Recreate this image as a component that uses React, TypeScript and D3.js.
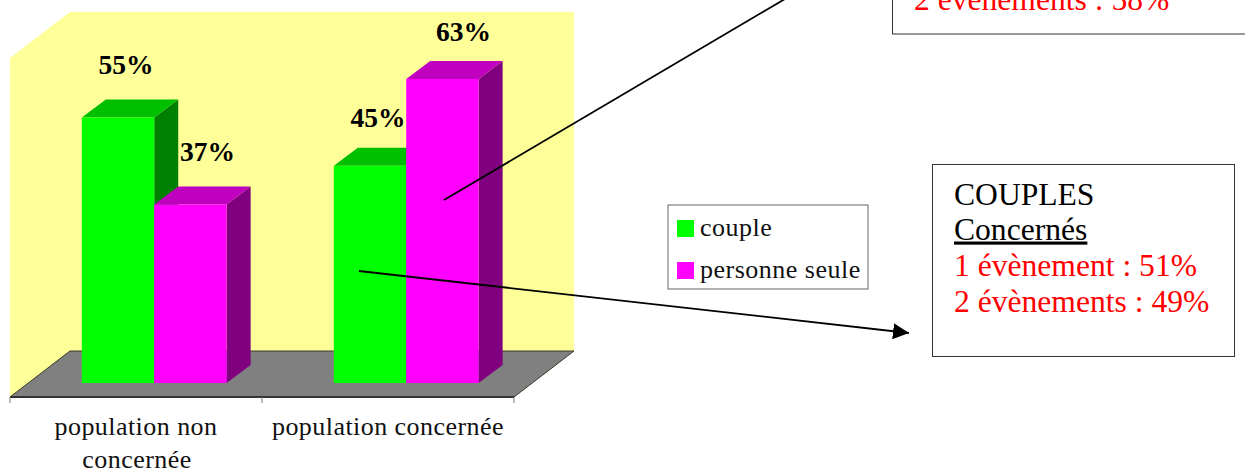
import React from "react";
import * as d3 from "d3";

const categories = ["population non concernée", "population concernée"];
const categoryLines = [["population non", "concernée"], ["population concernée"]];
const seriesNames = ["couple", "personne seule"];
const coupleValues = [55, 45];
const personneSeuleValues = [37, 63];
const coupleBoxLines = ["COUPLES", "Concernés", "1 évènement : 51%", "2 évènements : 49%"];
const seuleBoxVisibleLine = "2 évènements : 58%";

const W = 1245, H = 469;
const FONT = "'Liberation Serif', serif";
const colors = {
  wall: "#FFFF99", floor: "#808080",
  couple: { front: "#00FF00", top: "#00BF00", side: "#008000" },
  seule: { front: "#FF00FF", top: "#BF00BF", side: "#800080" },
};
const plot = { left: 10, right: 514, front: 397, back: 351, wallTop: 12, dx: 60, dy: 46 };
const barDepth = { dx: 24, dy: 18 };
const barBase = 383;

const x0 = d3.scaleBand<string>().domain(categories).range([plot.left, plot.right]);
const x1 = d3.scaleBand<string>().domain(seriesNames).range([0, x0.bandwidth()]).paddingInner(0).paddingOuter(0.74).align(0.67);
const y = d3.scaleLinear().domain([0, 63]).range([barBase, 79]);

const labelNudge: [number, number][][] = [
  [[8, -44], [17, -43]],
  [[8, -39], [21, -38]],
];
const poly = (pts: [number, number][]) => (d3.line()(pts) as string) + "Z";

type Bar = { cat: number; ser: number; v: number; x: number; w: number; t: number; c: typeof colors.couple };
const seriesValues = [coupleValues, personneSeuleValues];
const seriesColors = [colors.couple, colors.seule];
const bars: Bar[] = [];
categories.forEach((cat, i) => seriesNames.forEach((s, j) => {
  bars.push({ cat: i, ser: j, v: seriesValues[j][i], x: x0(cat)! + x1(s)!, w: x1.bandwidth(), t: y(seriesValues[j][i]), c: seriesColors[j] });
}));

export default function App() {
  const { left, right, front, back, wallTop, dx } = plot;
  const wallRight = right + dx;
  return (
    <svg width={W} height={H} viewBox={`0 0 ${W} ${H}`} style={{ position: "absolute", left: 0, top: 0, fontFamily: FONT }}>
      <defs>
        <marker id="arrow" markerUnits="userSpaceOnUse" markerWidth="18" markerHeight="16" refX="16" refY="8" orient="auto">
          <path d="M0,0L16,8L0,16Z" fill="#000" />
        </marker>
      </defs>
      <rect width={W} height={H} fill="#fff" />
      {/* wall */}
      <path d={poly([[left, front], [left, front - 339], [left + dx, wallTop], [wallRight, wallTop], [wallRight, back], [left + dx, back]])} fill={colors.wall} />
      {/* floor */}
      <path d={poly([[left, front], [left + dx, back], [wallRight, back], [right, front]])} fill={colors.floor} />
      <path d={`M${left},${front}L${left + dx},${back}L${wallRight},${back}L${right},${front}`} fill="none" stroke="#3a3a2a" strokeWidth={1} />
      <line x1={left} x2={right} y1={front} y2={front} stroke="#333" strokeWidth={2} />
      {x0.domain().concat(["end"]).map((_, i) => {
        const tx = left + i * x0.step();
        return <line key={i} x1={tx} x2={tx} y1={front} y2={front + 6} stroke="#777" strokeWidth={1} />;
      })}
      {/* bars */}
      {bars.map((b, i) => (
        <g key={i}>
          <path d={poly([[b.x + b.w, b.t], [b.x + b.w + barDepth.dx, b.t - barDepth.dy], [b.x + b.w + barDepth.dx, barBase - barDepth.dy], [b.x + b.w, barBase]])} fill={b.c.side} />
          <path d={poly([[b.x, b.t], [b.x + barDepth.dx, b.t - barDepth.dy], [b.x + b.w + barDepth.dx, b.t - barDepth.dy], [b.x + b.w, b.t]])} fill={b.c.top} />
          <rect x={b.x} y={b.t} width={b.w} height={barBase - b.t} fill={b.c.front} />
        </g>
      ))}
      {/* value labels */}
      {bars.map((b, i) => (
        <text key={i} x={b.x + b.w / 2 + labelNudge[b.cat][b.ser][0]} y={b.t + labelNudge[b.cat][b.ser][1]}
          textAnchor="middle" fontSize={27.5} fontWeight="bold" fill="#000">{b.v}%</text>
      ))}
      {/* category labels */}
      {categories.map((c, i) => (
        <text key={c} textAnchor="middle" fontSize={26} letterSpacing={0.45} fill="#111">
          {categoryLines[i].map((ln, k) => (
            <tspan key={k} x={x0(c)! + x0.bandwidth() / 2} dx={k === 1 ? 1 : 0} y={435 + k * 33}>{ln}</tspan>
          ))}
        </text>
      ))}
      {/* callout lines */}
      <line x1={444} y1={200} x2={790} y2={-4} stroke="#000" strokeWidth={1.8} />
      <line x1={359} y1={271} x2={909} y2={333} stroke="#000" strokeWidth={1.8} markerEnd="url(#arrow)" />
      {/* legend */}
      <rect x={668} y={205} width={200} height={84} fill="#fff" stroke="#666" strokeWidth={1} />
      {seriesNames.map((s, i) => (
        <g key={s}>
          <rect x={677} y={220 + i * 42} width={17} height={17} fill={seriesColors[i].front} />
          <text x={700} y={236 + i * 42} fontSize={26} letterSpacing={0.5} fill="#111">{s}</text>
        </g>
      ))}
      {/* top clipped box */}
      <rect x={892.5} y={-40} width={400} height={74} fill="#fff" stroke="#333" strokeWidth={1} />
      <text x={914} y={10} fontSize={31.6} fill="#FF0000">{seuleBoxVisibleLine}</text>
      {/* couples box */}
      <rect x={932.5} y={164.5} width={302} height={192} fill="#fff" stroke="#333" strokeWidth={1} />
      <text x={954} y={204.5} fontSize={31.6} fill="#000">{coupleBoxLines[0]}</text>
      <text x={954} y={239.5} fontSize={31.6} fill="#000" textDecoration="underline">{coupleBoxLines[1]}</text>
      <text x={954} y={275.5} fontSize={31.6} fill="#FF0000">{coupleBoxLines[2]}</text>
      <text x={954} y={311.5} fontSize={31.6} fill="#FF0000">{coupleBoxLines[3]}</text>
    </svg>
  );
}
